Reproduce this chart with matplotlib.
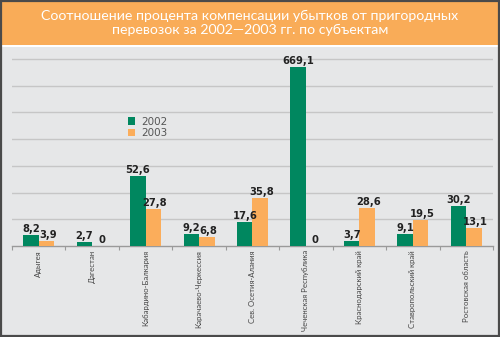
import matplotlib
matplotlib.use("Agg")
import matplotlib.pyplot as plt
from matplotlib.patches import Rectangle
import numpy as np

categories = ["Адыгея", "Дагестан", "Кабардино-Балкария", "Карачаево-Черкессия",
              "Сев. Осетия-Алания", "Чеченская Республика", "Краснодарский край",
              "Ставропольский край", "Ростовская область"]
values_2002 = [8.2, 2.7, 52.6, 9.2, 17.6, 669.1, 3.7, 9.1, 30.2]
values_2003 = [3.9, 0.0, 27.8, 6.8, 35.8, 0.0, 28.6, 19.5, 13.1]
series_names = ["2002", "2003"]
title = "Соотношение процента компенсации убытков от пригородных\nперевозок за 2002—2003 гг. по субъектам"

GREEN = "#00875F"
ORANGE = "#FBAD5B"
BAND = "#F9AC58"
PANEL = "#E6E7E8"
YMAX = 140.7
CAP = 134  # visual truncation of out-of-range bar

fig = plt.figure(figsize=(5.0, 3.37), dpi=100, facecolor="white")
H = 337.0
fig.patches.append(Rectangle((0, (H - 45) / H), 1, 45 / H, transform=fig.transFigure,
                             facecolor=BAND, edgecolor="none", zorder=-10))
fig.patches.append(Rectangle((0, 0), 1, (H - 47) / H, transform=fig.transFigure,
                             facecolor=PANEL, edgecolor="none", zorder=-10))
fig.patches.append(Rectangle((0.002, 0.004), 0.995, 0.994, transform=fig.transFigure,
                             facecolor="none", edgecolor="#4a4a4a", linewidth=1.6, zorder=5))

fig.text(0.5, (H - 23) / H, title, ha="center", va="center", color="white",
         fontsize=10.2, family=["Lato", "DejaVu Sans"], linespacing=1.1)

ax = fig.add_axes([12 / 500, 91 / H, 481 / 500, 188 / H])
ax.set_facecolor("none")
ax.set_zorder(1)
x = np.arange(len(categories))
w = 0.29
h02 = [min(v, CAP) for v in values_2002]
h03 = [min(v, CAP) for v in values_2003]
ax.bar(x - w / 2, h02, w, color=GREEN, label=series_names[0], zorder=3)
ax.bar(x + w / 2, h03, w, color=ORANGE, label=series_names[1], zorder=3)

def fmt(v):
    return "0" if v == 0 else ("%.1f" % v).replace(".", ",")

for xi, v, hv in zip(x, values_2002, h02):
    ax.text(xi - w / 2, hv + 0.8, fmt(v), ha="center", va="bottom", fontsize=7.2,
            fontweight="bold", color="#222222", zorder=4)
for xi, v, hv in zip(x, values_2003, h03):
    ax.text(xi + w / 2 + 0.03, hv + 0.8, fmt(v), ha="center", va="bottom", fontsize=7.2,
            fontweight="bold", color="#222222", zorder=4)

ax.set_xlim(-0.5, len(categories) - 0.5)
ax.set_ylim(0, YMAX)
ax.set_yticks(np.arange(20, 141, 20))
ax.yaxis.grid(True, color="#C6C6C6", linewidth=1.0, zorder=0)
ax.tick_params(axis="y", length=0, labelleft=False)
for s in ["top", "right", "left"]:
    ax.spines[s].set_visible(False)
ax.spines["bottom"].set_color("#9a9a9a")
ax.spines["bottom"].set_linewidth(1.0)

ax.set_xticks(x)
ax.set_xticklabels(categories, rotation=90, fontsize=5.6, color="#444444",
                   family=["Lato", "DejaVu Sans"])
ax.tick_params(axis="x", which="major", length=0, pad=3)
ax.set_xticks(np.arange(-0.5, len(categories), 1), minor=True)
ax.tick_params(axis="x", which="minor", length=3, color="#9a9a9a", width=0.8)

leg = ax.legend(loc="upper left", bbox_to_anchor=(0.232, 0.71), frameon=False,
                fontsize=7.5, handlelength=0.7, handleheight=0.7, handletextpad=0.6,
                labelspacing=0.15, borderaxespad=0)
for t in leg.get_texts():
    t.set_color("#555555")

fig.savefig("out.png", dpi=100, facecolor=fig.get_facecolor())
